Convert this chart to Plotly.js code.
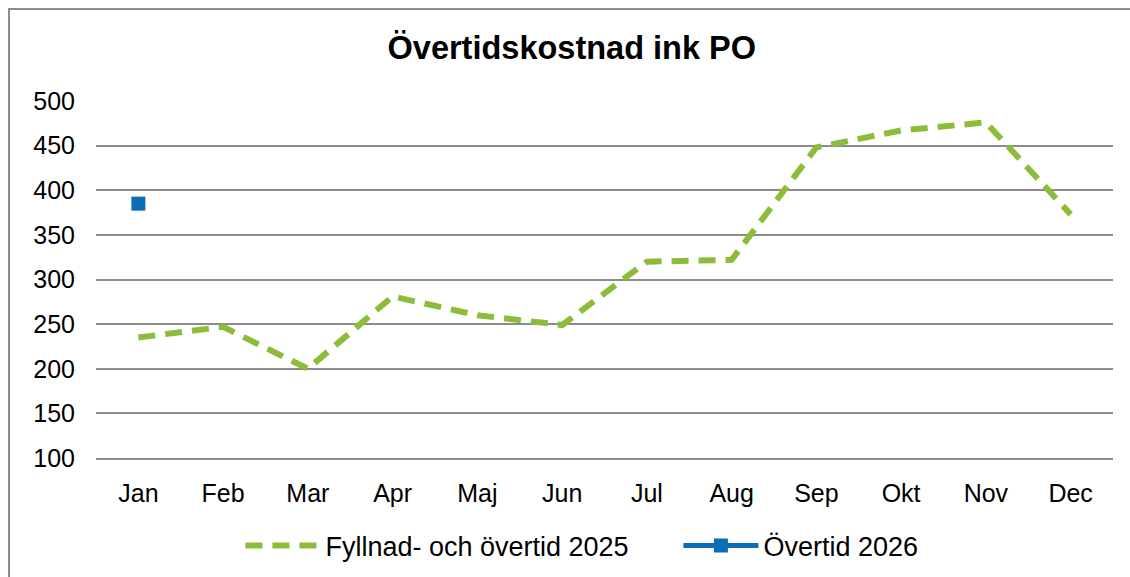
<!DOCTYPE html>
<html>
<head>
<meta charset="utf-8">
<script src="https://cdn.plot.ly/plotly-3.0.1.min.js"></script>
<style>
html,body{margin:0;padding:0;background:#fff;}
#wrap{position:relative;width:1130px;height:577px;overflow:hidden;}
#chart{width:1130px;height:577px;}
#frame{position:absolute;left:8px;top:8px;width:1140px;height:600px;border:2px solid #8c8c8c;box-sizing:border-box;pointer-events:none;}
</style>
</head>
<body>
<div id="wrap"><div id="chart"></div><div id="frame"></div></div>
<script>
const months = ["Jan","Feb","Mar","Apr","Maj","Jun","Jul","Aug","Sep","Okt","Nov","Dec"];
const fyllnad2025 = [235, 247, 200, 281, 260, 249, 320, 322, 448, 467, 476, 373];
const overtid2026 = [385, null, null, null, null, null, null, null, null, null, null, null];
const yTicks = [100,150,200,250,300,350,400,450,500];

const traces = [
  {
    x: months, y: fyllnad2025, type: "scatter", mode: "lines",
    name: "Fyllnad- och övertid 2025",
    line: {color: "#8DBB3A", width: 6, dash: "17px,10px"}
  },
  {
    x: months, y: overtid2026, type: "scatter", mode: "lines+markers",
    name: "Övertid 2026",
    line: {color: "#0C6DB5", width: 5},
    marker: {color: "#0C6DB5", size: 14, symbol: "square"}
  }
];

const layout = {
  width: 1130, height: 577,
  margin: {l: 96, r: 17, t: 101, b: 119, autoexpand: false},
  paper_bgcolor: "#fff", plot_bgcolor: "#fff",
  font: {family: "Liberation Sans, Arial, sans-serif", size: 25, color: "#000"},
  title: {text: "<b>Övertidskostnad ink PO</b>", font: {size: 32.5, color: "#000"},
          x: 0.506, xref: "container", xanchor: "center", y: 0.918, yref: "container", yanchor: "middle"},
  xaxis: {type: "category", range: [-0.5, 11.5], showgrid: false, showline: true, linecolor: "#8c8c8c", linewidth: 2,
          zeroline: false, ticks: "", ticklabelstandoff: 12, tickfont: {size: 25}},
  yaxis: {range: [100, 500], tickvals: yTicks, showgrid: true, gridcolor: "#8c8c8c", gridwidth: 2,
          zeroline: false, showline: false, ticks: "", ticklabelstandoff: 20, tickfont: {size: 25}},
  showlegend: true,
  legend: {orientation: "h", x: 0.142, xanchor: "left", y: -0.2465, yanchor: "middle",
           font: {size: 27}, itemwidth: 75, tracegroupgap: 0,
           entrywidth: 348, entrywidthmode: "pixels"},
};

Plotly.newPlot("chart", traces, layout, {displayModeBar: false, staticPlot: true});
</script>
</body>
</html>
